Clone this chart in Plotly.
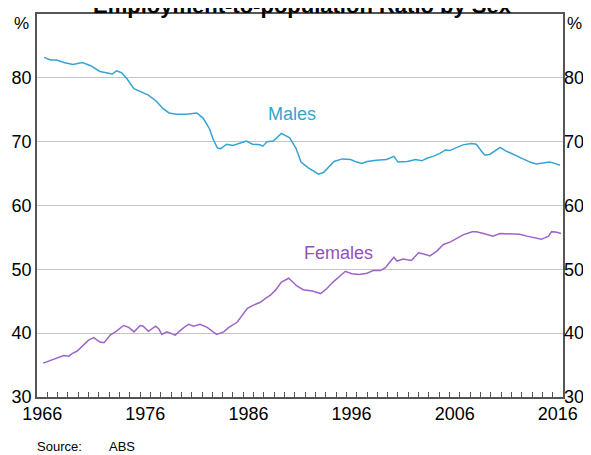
import plotly.graph_objects as go

# Males employment-to-population ratio (%)
males_year = [1966.7, 1967.3, 1967.9, 1968.6, 1969.5, 1970.4, 1971.2, 1972.1, 1973.3, 1973.7,
              1974.2, 1974.7, 1975.4, 1976.3, 1976.8, 1977.6, 1978.2, 1978.8, 1979.5, 1980.5,
              1981.2, 1981.5, 1982.1, 1982.7, 1983.1, 1983.5, 1983.8, 1984.4, 1985.0, 1985.7,
              1986.3, 1986.9, 1987.6, 1987.9, 1988.3, 1988.9, 1989.7, 1990.5, 1991.1, 1991.6,
              1992.3, 1992.9, 1993.3, 1993.8, 1994.2, 1994.8, 1995.6, 1996.4, 1997.0, 1997.5,
              1998.0, 1998.9, 1999.9, 2000.6, 2001.0, 2001.9, 2002.7, 2003.3, 2003.8, 2004.4,
              2005.1, 2005.6, 2006.0, 2006.7, 2007.3, 2008.1, 2008.6, 2009.1, 2009.4, 2009.9,
              2010.4, 2010.9, 2011.4, 2011.8, 2012.5, 2013.1, 2013.8, 2014.4, 2015.1, 2015.7,
              2016.2, 2016.7]
males_val = [83.2, 82.8, 82.8, 82.4, 82.1, 82.4, 81.9, 81.0, 80.6, 81.1,
             80.8, 79.9, 78.3, 77.7, 77.3, 76.3, 75.2, 74.5, 74.3, 74.3,
             74.4, 74.5, 73.7, 72.1, 70.3, 69.0, 68.9, 69.6, 69.4, 69.8,
             70.1, 69.6, 69.5, 69.3, 70.0, 70.1, 71.3, 70.6, 69.0, 66.8,
             65.9, 65.3, 64.9, 65.2, 65.9, 66.9, 67.3, 67.2, 66.8, 66.6,
             66.9, 67.1, 67.2, 67.7, 66.8, 66.9, 67.2, 67.0, 67.4, 67.7,
             68.2, 68.7, 68.6, 69.1, 69.5, 69.7, 69.6, 68.5, 67.9, 68.0,
             68.5, 69.1, 68.6, 68.3, 67.9, 67.4, 66.8, 66.5, 66.6, 66.8,
             66.6, 66.3]

# Females employment-to-population ratio (%)
females_year = [1966.6, 1967.6, 1968.6, 1969.1, 1969.4, 1969.9, 1970.5, 1971.0, 1971.5, 1972.1,
                1972.5, 1973.1, 1973.6, 1974.4, 1974.9, 1975.4, 1976.0, 1976.3, 1976.8, 1977.5,
                1977.8, 1978.1, 1978.6, 1979.4, 1980.1, 1980.7, 1981.2, 1981.8, 1982.5, 1983.4,
                1984.1, 1984.6, 1985.4, 1986.4, 1987.0, 1987.6, 1988.3, 1988.6, 1989.1, 1989.7,
                1990.4, 1991.2, 1991.8, 1992.7, 1993.5, 1994.1, 1994.7, 1995.4, 1995.9, 1996.5,
                1997.2, 1998.0, 1998.6, 1999.3, 1999.8, 2000.2, 2000.6, 2000.9, 2001.5, 2002.3,
                2003.0, 2003.5, 2004.1, 2004.8, 2005.4, 2006.1, 2006.7, 2007.3, 2008.2, 2008.6,
                2009.3, 2010.2, 2010.9, 2011.9, 2012.8, 2013.5, 2014.3, 2014.9, 2015.6, 2015.9,
                2016.4, 2016.8]
females_val = [35.3, 35.9, 36.5, 36.4, 36.8, 37.2, 38.1, 38.9, 39.3, 38.6,
               38.5, 39.7, 40.2, 41.2, 40.9, 40.2, 41.2, 41.1, 40.3, 41.1,
               40.7, 39.8, 40.2, 39.7, 40.7, 41.4, 41.1, 41.4, 40.9, 39.8,
               40.2, 40.9, 41.7, 43.9, 44.4, 44.8, 45.6, 45.9, 46.7, 48.0,
               48.6, 47.4, 46.8, 46.6, 46.2, 47.0, 48.0, 49.0, 49.7, 49.3,
               49.2, 49.4, 49.8, 49.8, 50.3, 51.1, 51.9, 51.3, 51.6, 51.4,
               52.6, 52.4, 52.1, 52.9, 53.9, 54.3, 54.9, 55.4, 55.9, 55.9,
               55.6, 55.2, 55.6, 55.6, 55.5, 55.2, 54.9, 54.7, 55.2, 55.9,
               55.8, 55.6]

y_ticks = [30, 40, 50, 60, 70, 80]
x_labels = ['1966', '1976', '1986', '1996', '2006', '2016']

font_family = 'Arial, Liberation Sans, sans-serif'
male_col = '#35a3d4'
female_col = '#9d65c9'
axis_col = '#555555'

fig = go.Figure()
fig.add_trace(go.Scatter(x=males_year, y=males_val, mode='lines',
                         line=dict(color=male_col, width=1.5), showlegend=False))
fig.add_trace(go.Scatter(x=females_year, y=females_val, mode='lines',
                         line=dict(color=female_col, width=1.5), showlegend=False))

# page body has an 8px margin, so the figure is a little smaller than the window
fig.update_layout(
    width=583,
    height=447,
    margin=dict(l=29, r=28, t=4, b=58),
    plot_bgcolor='white',
    paper_bgcolor='white',
    font=dict(family=font_family, color='black', size=18),
    showlegend=False,
)

fig.update_xaxes(
    range=[1966, 2017],
    tickvals=[int(s) + 0.5 for s in x_labels],
    ticktext=x_labels,
    ticks='',
    showgrid=False,
    zeroline=False,
    showline=True,
    mirror=True,
    linecolor=axis_col,
    linewidth=1.5,
    tickfont=dict(size=18),
    minor=dict(tickvals=list(range(1967, 2017)), ticks='inside', ticklen=5,
               tickcolor=axis_col, tickwidth=1, showgrid=False),
)
fig.update_yaxes(
    range=[30, 90],
    tickvals=y_ticks,
    ticks='',
    showgrid=True,
    gridcolor='#c4c4c4',
    gridwidth=1,
    zeroline=False,
    showline=True,
    mirror=True,
    linecolor=axis_col,
    linewidth=1.5,
    tickfont=dict(size=18),
)
fig.update_layout(
    yaxis2=dict(overlaying='y', side='right', range=[30, 90], tickvals=y_ticks,
                showgrid=False, zeroline=False, ticks='', tickfont=dict(size=18),
                showline=False),
)
fig.add_trace(go.Scatter(x=[1966], y=[30], yaxis='y2', mode='markers',
                         marker=dict(opacity=0), hoverinfo='skip', showlegend=False))

# title, cut off at the top in the reference
fig.add_annotation(text='<b>Employment-to-population Ratio by Sex</b>', xref='paper', yref='paper',
                   x=0.505, y=1.022, xanchor='center', yanchor='middle', showarrow=False,
                   font=dict(size=22, color='black'))

# unit labels
fig.add_annotation(text='%', xref='paper', yref='paper', x=-0.012, y=0.974,
                   xanchor='right', yanchor='middle', showarrow=False, font=dict(size=17))
fig.add_annotation(text='%', xref='paper', yref='paper', x=1.003, y=0.974,
                   xanchor='left', yanchor='middle', showarrow=False, font=dict(size=17))

# series labels
fig.add_annotation(text='Males', x=1990.7, y=74.3, showarrow=False,
                   font=dict(size=18, color=male_col))
fig.add_annotation(text='Females', x=1995.2, y=52.6, showarrow=False,
                   font=dict(size=18, color='#9450c0'))

fig.add_annotation(text='Source:', xref='paper', yref='paper', x=-0.004, y=-0.13,
                   xanchor='left', yanchor='middle', showarrow=False, font=dict(size=13))
fig.add_annotation(text='ABS', xref='paper', yref='paper', x=0.133, y=-0.13,
                   xanchor='left', yanchor='middle', showarrow=False, font=dict(size=13))

fig.write_html("out.html")
